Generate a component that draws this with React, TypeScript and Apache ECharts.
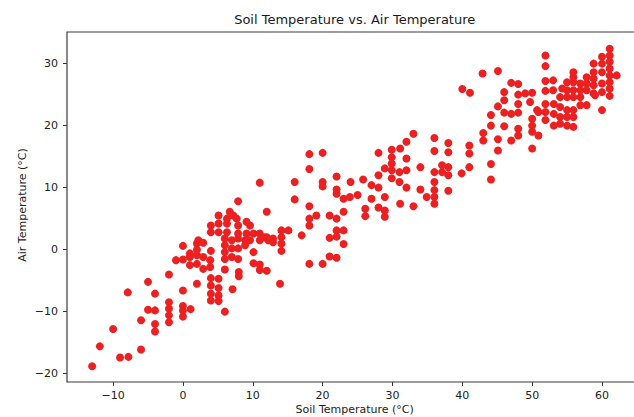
import React, { useEffect, useRef } from "react";
import * as echarts from "echarts";

// Winter / cold days (soil below ~8 °C)
const soilCold = [
  -13.0, -11.9, -10.0, -9.0, -7.8, -7.9, -6.0, -6.0, -5.0, -4.0,
  -5.0, -4.0, -4.0, -4.0, -2.0, -2.0, -2.0, -2.0, -2.0, 0.0,
  0.0, 0.0, 0.0, 1.1, 0.0, -1.0, 0.0, 1.0, 2.0, 2.9,
  1.0, 2.0, 2.9, 3.9, 1.0, 2.0, 2.9, 3.9, 2.2, 2.0,
  4.0, 2.0, 4.0, 5.1, 4.0, 5.1, 4.0, 5.1, 4.0, 5.1,
  7.1, 6.0, 6.0, 8.0, 8.0,
];
const airCold = [
  -18.8, -15.6, -12.8, -17.4, -17.3, -6.9, -16.1, -11.4, -5.2, -7.1,
  -9.7, -9.8, -12.0, -13.2, -4.0, -8.5, -9.5, -10.6, -11.7, -6.6,
  -9.1, -9.8, -10.8, -9.6, 0.6, -1.7, -1.6, -0.6, 1.0, 1.1,
  -1.2, -0.9, -1.2, -1.7, -2.5, -2.3, -3.1, -2.8, 1.5, 0.0,
  -0.2, -5.5, -4.6, -4.7, -5.8, -6.2, -7.1, -7.4, -8.2, -8.3,
  -6.4, -10.0, -3.2, -3.6, -4.3,
];

const soilCool = [
  7.9, 12.0, 6.7, 7.2, 5.1, 6.3, 7.7, 4.0, 5.1, 6.3,
  7.9, 9.1, 9.6, 4.0, 5.1, 6.3, 7.9, 9.1, 10.1, 11.0,
  6.0, 6.0, 6.0, 6.0, 7.0, 7.0, 7.0, 7.9, 7.9, 7.9,
  8.9, 8.9, 9.6, 11.0, 11.7, 12.2, 12.9, 14.1, 15.1, 14.1,
  14.1, 14.1, 10.1, 10.1, 11.0, 11.0, 12.0, 13.9, 11.0, 12.0,
  12.9,
];
const airCool = [
  7.8, 6.1, 6.1, 5.5, 5.5, 5.0, 5.0, 3.9, 4.2, 4.2,
  3.9, 4.5, 3.9, 2.8, 2.8, 2.8, 2.6, 2.6, 2.6, 2.6,
  1.8, 0.7, -0.4, -1.5, 1.5, 0.2, -1.2, 1.8, 0.2, -1.5,
  1.5, 0.7, 1.5, 1.5, 2.0, 1.5, 1.8, 3.1, 3.1, 2.0,
  1.0, -0.2, -0.4, -2.2, -2.4, -3.3, -3.4, -5.5, 10.8, 2.0,
  1.2,
];

const soilMild = [
  18.1, 20.0, 18.1, 16.0, 16.0, 20.0, 20.0, 22.0, 22.0, 22.0,
  18.1, 19.1, 18.1, 18.1, 21.0, 17.0, 21.0, 22.0, 21.0, 22.0,
  18.1, 20.0, 23.0, 22.0, 23.0, 22.0, 23.0, 23.0, 24.0, 23.9,
  25.0, 25.8, 27.0, 28.0, 27.0, 28.9, 28.0, 28.9, 28.9, 26.1,
  26.1, 28.0, 28.9, 28.0, 29.9, 31.1, 29.9, 29.9, 29.9, 29.9,
  32.0, 32.0, 31.0, 31.0, 32.0, 33.0, 32.0, 34.0, 31.1, 33.0,
  34.0, 34.9,
];
const airMild = [
  15.4, 15.6, 13.0, 10.9, 8.1, 10.9, 10.2, 11.8, 9.7, 9.0,
  7.0, 5.5, 5.0, 3.9, 5.5, 2.3, 1.9, 2.1, -1.1, -1.3,
  -2.3, -2.3, 8.2, 5.0, 6.1, 3.1, 3.1, 0.9, 10.9, 8.5,
  8.8, 11.3, 10.4, 10.0, 8.2, 8.5, 6.8, 6.3, 5.3, 6.6,
  5.4, 12.0, 13.1, 15.6, 16.1, 16.3, 14.9, 13.9, 12.8, 11.5,
  14.7, 12.8, 12.5, 10.9, 10.0, 18.7, 17.4, 13.3, 7.4, 7.0,
  9.7, 8.5,
];

const soilWarm = [
  36.0, 36.0, 38.0, 38.0, 41.0, 41.0, 36.0, 37.1, 38.0, 38.0,
  37.1, 39.9, 41.0, 36.0, 36.0, 36.0, 36.0, 38.0, 42.9, 45.1,
  40.0, 41.1, 47.0, 48.0, 46.0, 48.0, 49.0, 50.0, 48.0, 49.7,
  50.7, 45.1, 46.0, 47.0, 48.0, 44.1, 44.1, 46.0, 48.0, 48.0,
  47.0, 50.0, 50.0, 50.0, 50.0, 43.0, 43.0, 45.1, 45.1, 44.1,
  44.1, 46.0, 50.9, 50.9,
];
const airWarm = [
  18.0, 15.9, 17.2, 15.7, 16.8, 15.5, 12.5, 13.6, 13.3, 12.0,
  12.5, 12.3, 13.3, 10.9, 9.6, 8.5, 7.4, 9.5, 28.4, 28.8,
  25.9, 25.3, 26.9, 26.7, 25.4, 25.0, 25.2, 25.3, 23.5, 23.8,
  22.5, 23.1, 22.1, 21.9, 22.1, 21.7, 20.0, 19.9, 19.5, 18.4,
  17.6, 21.1, 20.0, 19.0, 16.3, 18.8, 17.6, 17.8, 16.0, 13.8,
  11.3, 24.1, 22.2, 18.4,
];

const soilHot = [
  51.9, 51.9, 51.9, 53.0, 51.9, 53.0, 55.9, 55.0, 55.9, 55.0,
  55.9, 54.0, 55.0, 55.9, 51.9, 53.1, 54.0, 55.0, 55.9, 51.9,
  53.1, 54.0, 55.0, 55.9, 51.9, 53.1, 54.0, 55.0, 55.9, 60.0,
  61.1, 61.1, 61.1, 61.1, 61.1, 61.1, 61.1, 60.0, 60.0, 60.0,
  60.0, 60.0, 58.8, 58.8, 58.8, 58.8, 58.8, 57.8, 57.8, 57.8,
  57.8, 56.9, 56.9, 56.9, 56.9, 62.1, 54.3, 59.0, 61.1, 55.9,
];
const airHot = [
  31.3, 29.6, 27.2, 27.3, 25.6, 25.7, 28.6, 27.0, 27.0, 25.7,
  25.7, 24.6, 24.6, 24.6, 23.5, 23.5, 23.0, 22.5, 22.5, 22.2,
  21.9, 21.4, 21.4, 21.4, 20.9, 20.0, 20.3, 20.0, 19.8, 22.5,
  32.4, 31.3, 30.3, 29.2, 28.1, 27.0, 26.0, 31.1, 30.0, 28.6,
  26.8, 25.4, 30.0, 28.6, 27.6, 26.5, 25.2, 27.8, 26.8, 25.7,
  23.3, 26.8, 25.7, 24.6, 23.3, 28.1, 26.0, 24.9, 24.8, 27.8,
];

const xTicks = [-10, 0, 10, 20, 30, 40, 50, 60];
const yTicks = [-20, -10, 0, 10, 20, 30];

const title = "Soil Temperature vs. Air Temperature";
const xName = "Soil Temperature (°C)";
const yName = "Air Temperature (°C)";

const soilGroups = [soilCold, soilCool, soilMild, soilWarm, soilHot];
const airGroups = [airCold, airCool, airMild, airWarm, airHot];

const FONT = "DejaVu Sans";
const fmt = (v: number) => (v < 0 ? "\u2212" + Math.abs(v) : String(v));

export default function App() {
  const ref = useRef<HTMLDivElement>(null);
  useEffect(() => {
    if (!ref.current) return;
    const chart = echarts.init(ref.current, null, { renderer: "svg" });
    const data: number[][] = [];
    soilGroups.forEach((g, gi) => {
      g.forEach((s, i) => {
        const a = airGroups[gi][i];
        if (a !== undefined) data.push([s, a]);
      });
    });
    const axisColor = "#3a3a3a";
    chart.setOption({
      animation: false,
      backgroundColor: "#ffffff",
      textStyle: { fontFamily: FONT },
      grid: {
        left: 67,
        top: 32,
        width: 575.5,
        height: 350,
        show: true,
        borderColor: axisColor,
        borderWidth: 1.2,
        backgroundColor: "transparent",
      },
      xAxis: {
        type: "value",
        min: -16.6,
        max: 65.8,
        splitLine: { show: false },
        axisLine: { show: false, onZero: false },
        axisTick: {
          show: true,
          length: 4,
          lineStyle: { color: axisColor, width: 1 },
          customValues: xTicks,
        },
        axisLabel: {
          customValues: xTicks,
          fontSize: 11,
          color: "#222",
          margin: 8,
          fontFamily: FONT,
          formatter: fmt,
        },
      },
      yAxis: {
        type: "value",
        min: -21.35,
        max: 35.1,
        splitLine: { show: false },
        axisLine: { show: false, onZero: false },
        axisTick: {
          show: true,
          length: 4,
          lineStyle: { color: axisColor, width: 1 },
          customValues: yTicks,
        },
        axisLabel: {
          customValues: yTicks,
          fontSize: 11,
          color: "#222",
          margin: 9,
          fontFamily: FONT,
          formatter: fmt,
        },
      },
      graphic: [
        {
          type: "text",
          x: 354.7,
          y: 19,
          style: {
            text: title,
            fill: "#1a1a1a",
            font: `13px "${FONT}"`,
            align: "center",
            verticalAlign: "middle",
          },
        },
        {
          type: "text",
          x: 354.7,
          y: 404,
          style: {
            text: xName,
            fill: "#222",
            font: `11px "${FONT}"`,
            align: "center",
            verticalAlign: "top",
          },
        },
        {
          type: "text",
          x: 22,
          y: 205,
          rotation: Math.PI / 2,
          style: {
            text: yName,
            fill: "#222",
            font: `11px "${FONT}"`,
            align: "center",
            verticalAlign: "middle",
          },
        },
      ],
      series: [
        {
          type: "scatter",
          data,
          symbol: "circle",
          symbolSize: 8,
          itemStyle: { color: "#ec2020", opacity: 1 },
          silent: true,
        },
      ],
    });
    return () => chart.dispose();
  }, []);
  return (
    <div
      style={{
        position: "fixed",
        left: 0,
        top: 0,
        width: 634,
        height: 417,
        overflow: "hidden",
        background: "#fff",
      }}
    >
      <div ref={ref} style={{ width: 680, height: 417 }} />
    </div>
  );
}
